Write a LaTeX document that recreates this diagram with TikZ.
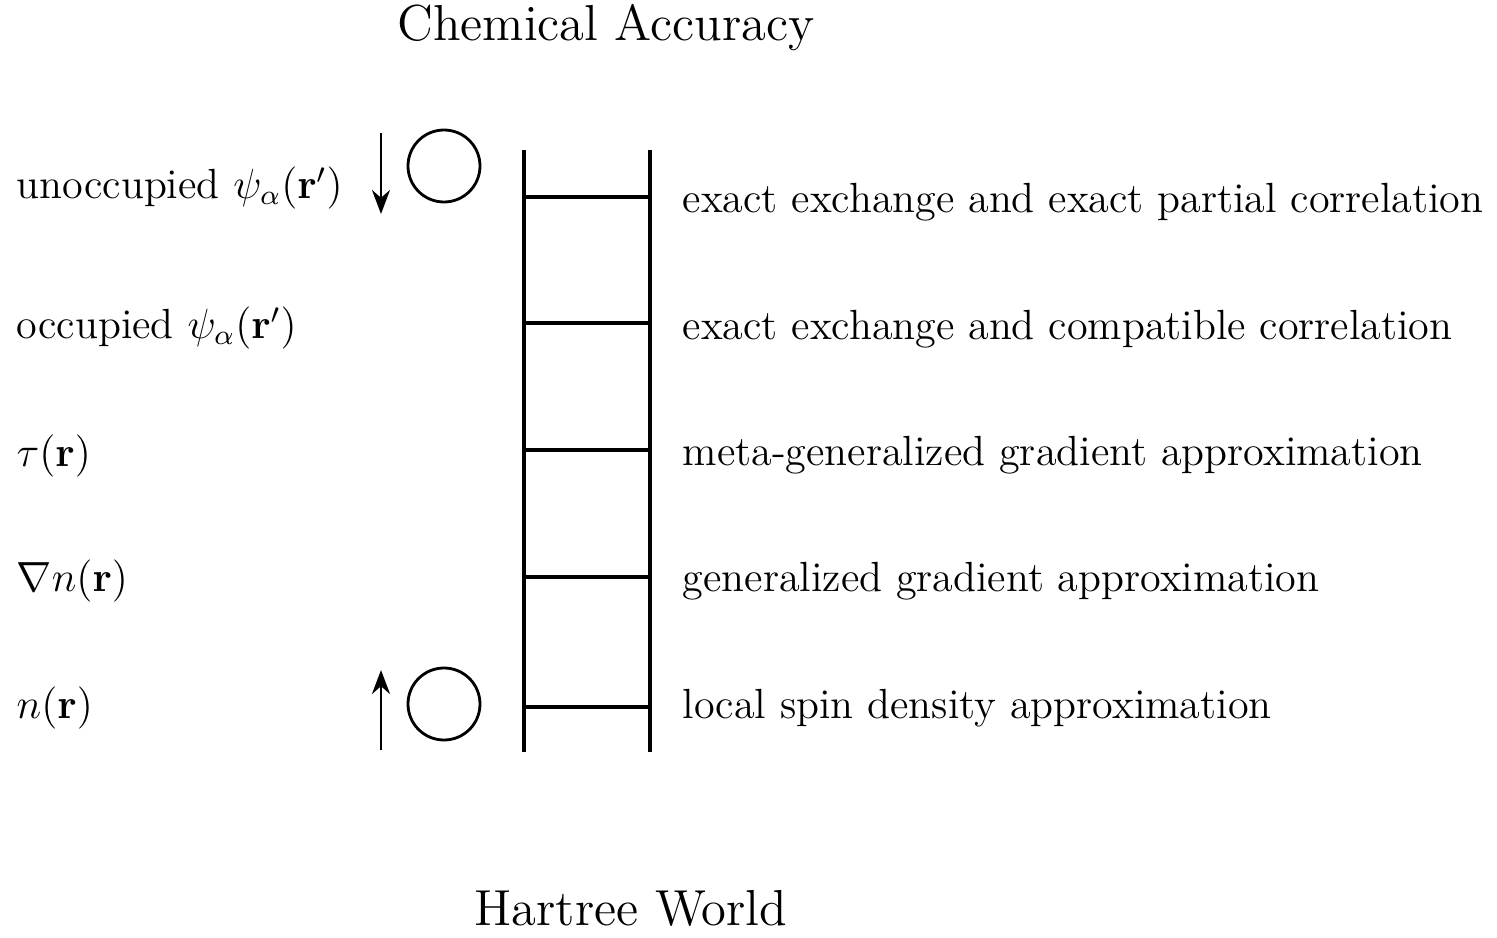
\documentclass[tikz,border=0pt]{standalone}
\usepackage{amsmath}
\usetikzlibrary{arrows.meta}
\tikzset{
    rung/.style={line width=0.9pt},
    rail/.style={line width=0.9pt},
    lefttext/.style={anchor=west, inner sep=0pt},
    righttext/.style={anchor=west, inner sep=0pt},
    heading/.style={font=\fontsize{14.4}{17}\selectfont},
    orbital/.style={draw, circle, line width=0.8pt, minimum size=0.72cm, inner sep=0pt},
    spin/.style={line width=0.8pt, -{Stealth[length=2.4mm, width=1.8mm]}}
}
\begin{document}
\begin{tikzpicture}[font=\fontsize{12}{14}\selectfont]
    \useasboundingbox (0,0) rectangle (14.97,9.37);
    \node[heading] (top) at (6.06,9.09) {Chemical Accuracy};
    \node[heading] (bottom) at (6.31,0.29) {Hartree World};
    % ladder
    \coordinate (railLtop) at (5.24,7.87);
    \coordinate (railLbot) at (5.24,1.85);
    \coordinate (railRtop) at (6.50,7.87);
    \coordinate (railRbot) at (6.50,1.85);
    \draw[rail] (railLtop) -- (railLbot);
    \draw[rail] (railRtop) -- (railRbot);
    \foreach \y/\n in {7.40/5, 6.14/4, 4.87/3, 3.60/2, 2.30/1} {
        \coordinate (rungL\n) at (5.24,\y);
        \coordinate (rungR\n) at (6.50,\y);
        \draw[rung] (rungL\n) -- (rungR\n);
    }
    % functionals
    \node[righttext] (f5) at (6.82,7.35) {exact exchange and exact partial correlation};
    \node[righttext] (f4) at (6.82,6.08) {exact exchange and compatible correlation};
    \node[righttext] (f3) at (6.82,4.82) {meta-generalized gradient approximation};
    \node[righttext] (f2) at (6.82,3.56) {generalized gradient approximation};
    \node[righttext] (f1) at (6.82,2.29) {local spin density approximation};
    % ingredients
    \node[lefttext] (i5) at (0.16,7.49) {unoccupied $\psi_\alpha(\mathbf{r}')$};
    \node[lefttext] (i4) at (0.16,6.09) {occupied $\psi_\alpha(\mathbf{r}')$};
    \node[lefttext] (i3) at (0.16,4.81) {$\tau(\mathbf{r})$};
    \node[lefttext] (i2) at (0.16,3.56) {$\nabla n(\mathbf{r})$};
    \node[lefttext] (i1) at (0.16,2.29) {$n(\mathbf{r})$};
    % circles and arrows
    \node[orbital] (heaven) at (4.44,7.71) {};
    \node[orbital] (earth) at (4.44,2.33) {};
    \coordinate (downA) at (3.81,8.04);
    \coordinate (downB) at (3.81,7.23);
    \coordinate (upA) at (3.81,1.87);
    \coordinate (upB) at (3.81,2.67);
    \draw[spin] (downA) -- (downB);
    \draw[spin] (upA) -- (upB);
\end{tikzpicture}
\end{document}
